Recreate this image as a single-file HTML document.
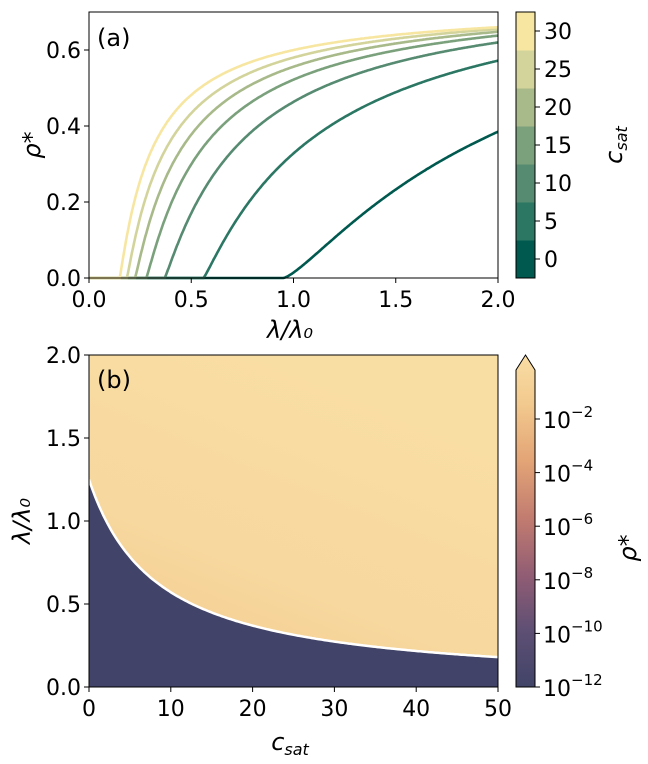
<!DOCTYPE html>
<html><head><meta charset="utf-8"><style>
html,body{margin:0;padding:0;background:#fff;}
svg{display:block;font-family:"DejaVu Sans","Liberation Sans",sans-serif;}
</style></head><body>
<svg id="s" width="648" height="764" viewBox="0 0 648 764" xmlns="http://www.w3.org/2000/svg">
<defs>
<linearGradient id="cb" x1="0" y1="1" x2="0" y2="0">
<stop offset="0" stop-color="#414468"/>
<stop offset="0.17" stop-color="#5e4f74"/>
<stop offset="0.33" stop-color="#8f5c74"/>
<stop offset="0.5" stop-color="#c07a70"/>
<stop offset="0.68" stop-color="#e3a476"/>
<stop offset="0.85" stop-color="#f2c98e"/>
<stop offset="1" stop-color="#f9dea4"/>
</linearGradient>
<linearGradient id="hm" x1="0" y1="1" x2="0.5" y2="0">
<stop offset="0" stop-color="#f2c88b"/>
<stop offset="0.45" stop-color="#f7d89e"/>
<stop offset="1" stop-color="#f9dea4"/>
</linearGradient>
</defs>
<g id="gtop"></g>
<g id="gbot"></g>
</svg>
<script>
(function(){
var NS="http://www.w3.org/2000/svg";
function el(p,t,a,txt){var e=document.createElementNS(NS,t);for(var k in a)e.setAttribute(k,a[k]);if(txt!==undefined)e.textContent=txt;p.appendChild(e);return e;}
var gt=document.getElementById('gtop'),gb=document.getElementById('gbot');
var L=89,R=498,T=12,B=278;
function tx(l){return L+(R-L)*l/2;} function ty(r){return B-(B-T)*r/0.7;}
var cols=["#00594f","#2b7764","#568b71","#7ba17c","#a8b98a","#d3d49b","#f7e6a1"];
var onsets=[0.95,0.56,0.37,0.28,0.225,0.185,0.15];
var ends=[0.385,0.572,0.62,0.638,0.648,0.655,0.66];
for(var i=0;i<7;i++){
 var lc=onsets[i],d="";
 var q=i==0?1.4:1.13;
 var A=ends[i]/Math.pow(1-lc/2,q);
 for(var k=0;k<=400;k++){var l=2*k/400;var r=0;
  if(l>lc){r=A*Math.pow(1-lc/l,q);}
  d+=(k?"L":"M")+tx(l).toFixed(1)+","+ty(r).toFixed(1);}
 el(gt,'path',{d:d,fill:'none',stroke:cols[i],'stroke-width':2.6});
}
el(gt,'rect',{x:L,y:T,width:R-L,height:B-T,fill:'none',stroke:'#000','stroke-width':1});
[0,0.5,1,1.5,2].forEach(function(v){var x=tx(v);el(gt,'line',{x1:x,x2:x,y1:B,y2:B+5,stroke:'#000'});el(gt,'text',{x:x,y:B+29,'text-anchor':'middle','font-size':22},v.toFixed(1));});
[0,0.2,0.4,0.6].forEach(function(v){var y=ty(v);el(gt,'line',{x1:L-5,x2:L,y1:y,y2:y,stroke:'#000'});el(gt,'text',{x:L-8,y:y+8,'text-anchor':'end','font-size':22},v.toFixed(1));});
el(gt,'text',{x:97,y:46,'font-size':24},'(a)');
el(gt,'text',{x:290,y:338,'text-anchor':'middle','font-size':24,'font-style':'italic'},'λ/λ₀');
el(gt,'text',{x:0,y:0,'font-size':24,'font-style':'italic',transform:'translate(40,145) rotate(-90)','text-anchor':'middle'},'ρ*');
var cT=12,cB=278,cL=516,cW=19,bh=(cB-cT)/7;
for(var i=0;i<7;i++){el(gt,'rect',{x:cL,y:cB-(i+1)*bh,width:cW,height:bh+0.5,fill:cols[i]});}
el(gt,'rect',{x:cL,y:cT,width:cW,height:cB-cT,fill:'none',stroke:'#000'});
for(var i=0;i<7;i++){var y=cB-(i+0.5)*bh;el(gt,'line',{x1:cL+cW,x2:cL+cW+5,y1:y,y2:y,stroke:'#000'});el(gt,'text',{x:cL+cW+9,y:y+8,'font-size':22},String(i*5));}
var cl=el(gt,'text',{x:0,y:0,'font-size':24,'font-style':'italic',transform:'translate(622,145) rotate(-90)','text-anchor':'middle'});
el(cl,'tspan',{},'c');el(cl,'tspan',{'font-size':16,dy:5},'sat');

var bT=355,bB=687;
function bx(c){return L+(R-L)*c/50;} function by(l){return bB-(bB-bT)*l/2;}
el(gb,'rect',{x:L,y:bT,width:R-L,height:bB-bT,fill:'url(#hm)'});
var d="M"+bx(0)+","+bB,dl="";
for(var k=0;k<=200;k++){var c=50*k/200;var l=1.25/(1+0.119*c);var pt=bx(c).toFixed(1)+","+by(l).toFixed(1);d+="L"+pt;dl+=(k?"L":"M")+pt;}
d+="L"+bx(50)+","+bB+"Z";
el(gb,'path',{d:d,fill:'#414468'});
el(gb,'path',{d:dl,fill:'none',stroke:'#fff','stroke-width':2.5});
el(gb,'rect',{x:L,y:bT,width:R-L,height:bB-bT,fill:'none',stroke:'#000'});
[0,10,20,30,40,50].forEach(function(v){var x=bx(v);el(gb,'line',{x1:x,x2:x,y1:bB,y2:bB+5,stroke:'#000'});el(gb,'text',{x:x,y:bB+29,'text-anchor':'middle','font-size':22},String(v));});
[0,0.5,1,1.5,2].forEach(function(v){var y=by(v);el(gb,'line',{x1:L-5,x2:L,y1:y,y2:y,stroke:'#000'});el(gb,'text',{x:L-8,y:y+8,'text-anchor':'end','font-size':22},v.toFixed(1));});
el(gb,'text',{x:97,y:388,'font-size':24},'(b)');
var xl=el(gb,'text',{x:290,y:750,'text-anchor':'middle','font-size':24,'font-style':'italic'});
el(xl,'tspan',{},'c');el(xl,'tspan',{'font-size':16,dy:5},'sat');
el(gb,'text',{x:0,y:0,'font-size':24,'font-style':'italic',transform:'translate(30,521) rotate(-90)','text-anchor':'middle'},'λ/λ₀');
el(gb,'path',{d:"M"+cL+",370 L"+(cL+cW/2)+",355 L"+(cL+cW)+",370 L"+(cL+cW)+","+bB+" L"+cL+","+bB+"Z",fill:'url(#cb)',stroke:'#000'});
var ex=['−2','−4','−6','−8','−10','−12'];
for(var i=0;i<6;i++){var y=419+i*53.6;el(gb,'line',{x1:cL+cW,x2:cL+cW+5,y1:y,y2:y,stroke:'#000'});var tt=el(gb,'text',{x:cL+cW+8,y:y+9,'font-size':22});el(tt,'tspan',{},'10');el(tt,'tspan',{'font-size':15,dy:-11},ex[i]);}
el(gb,'text',{x:0,y:0,'font-size':24,'font-style':'italic',transform:'translate(636,548) rotate(-90)','text-anchor':'middle'},'ρ*');
})();
</script>
</body></html>
